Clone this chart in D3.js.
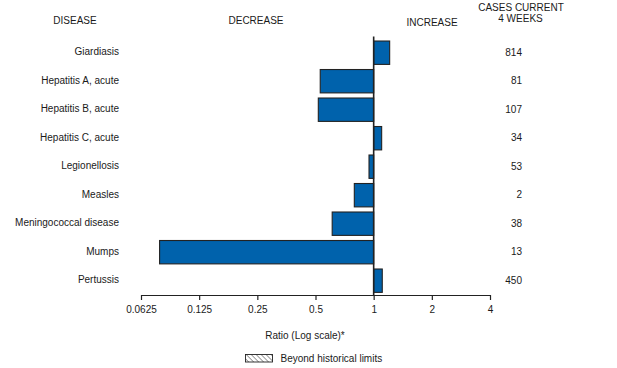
<!DOCTYPE html>
<html>
<head>
<meta charset="utf-8">
<script src="https://cdn.jsdelivr.net/npm/d3@7"></script>
<style>
  body { margin: 0; background: #fff; }
  svg { display: block; font-family: "Liberation Sans", Arial, Helvetica, sans-serif; }
  text { fill: #1a1a1a; }
</style>
</head>
<body>
<svg id="chart" width="617" height="368"></svg>
<script>
// ---- data ----
const diseases = ["Giardiasis", "Hepatitis A, acute", "Hepatitis B, acute", "Hepatitis C, acute",
  "Legionellosis", "Measles", "Meningococcal disease", "Mumps", "Pertussis"];
const ratios = [1.21, 0.529, 0.517, 1.10, 0.946, 0.794, 0.61, 0.078, 1.108];
const cases = [814, 81, 107, 34, 53, 2, 38, 13, 450];
const tickValues = [0.0625, 0.125, 0.25, 0.5, 1, 2, 4];
const tickLabels = ["0.0625", "0.125", "0.25", "0.5", "1", "2", "4"];

const svg = d3.select("#chart");

// hatch pattern for legend
const defs = svg.append("defs");
defs.append("pattern")
  .attr("id", "hatch").attr("patternUnits", "userSpaceOnUse")
  .attr("width", 3.5).attr("height", 3.5)
  .attr("patternTransform", "rotate(-45)")
  .append("line").attr("x1", 0).attr("y1", 0).attr("x2", 0).attr("y2", 3.5)
  .attr("stroke", "#222").attr("stroke-width", 0.9);

const x = d3.scaleLog().base(2).domain([0.0625, 4]).range([141, 490]);
const y = d3.scaleBand().domain(diseases).range([35.9, 297.5]).paddingInner(0.18).paddingOuter(0.18);

const fill = "#0062ac";
const stroke = "#222";

// bars
svg.append("g").selectAll("rect").data(diseases).join("rect")
  .attr("x", (d, i) => Math.min(x(1), x(ratios[i])))
  .attr("width", (d, i) => Math.abs(x(ratios[i]) - x(1)))
  .attr("y", d => y(d))
  .attr("height", y.bandwidth())
  .attr("fill", fill).attr("stroke", stroke).attr("stroke-width", 1.1);

// reference line at 1
svg.append("line")
  .attr("x1", x(1)).attr("x2", x(1)).attr("y1", 36.5).attr("y2", 295)
  .attr("stroke", "#222").attr("stroke-width", 1.6);

// axis
const axis = d3.axisBottom(x).tickValues(tickValues)
  .tickFormat((d, i) => tickLabels[i]).tickSizeInner(5).tickSizeOuter(0).tickPadding(6);
const gx = svg.append("g").attr("transform", "translate(0,295)").call(axis);
gx.select(".domain").attr("stroke", "#222").attr("stroke-width", 1.2);
gx.selectAll(".tick line").attr("stroke", "#222").attr("stroke-width", 1.2);
gx.selectAll(".tick text").attr("font-size", 10).attr("fill", "#1a1a1a")
  .attr("font-family", "Liberation Sans, Arial, sans-serif");

// disease labels
svg.append("g").selectAll("text").data(diseases).join("text")
  .attr("x", 119).attr("y", d => y(d) + y.bandwidth() / 2 - 1)
  .attr("dy", "0.35em").attr("text-anchor", "end").attr("font-size", 10)
  .text(d => d);

// case counts
svg.append("g").selectAll("text").data(diseases).join("text")
  .attr("x", 522).attr("y", d => y(d) + y.bandwidth() / 2 - 0.5)
  .attr("dy", "0.35em").attr("text-anchor", "end").attr("font-size", 10)
  .text((d, i) => cases[i]);

// headers
const hdr = svg.append("g").attr("font-size", 10);
hdr.append("text").attr("x", 75).attr("y", 24).attr("text-anchor", "middle").text("DISEASE");
hdr.append("text").attr("x", 256).attr("y", 24).attr("text-anchor", "middle").text("DECREASE");
hdr.append("text").attr("x", 432).attr("y", 25.5).attr("text-anchor", "middle").text("INCREASE");
hdr.append("text").attr("x", 521).attr("y", 10.5).attr("text-anchor", "middle").text("CASES CURRENT");
hdr.append("text").attr("x", 520.5).attr("y", 22).attr("text-anchor", "middle").text("4 WEEKS");

// axis title
svg.append("text").attr("x", 305).attr("y", 339).attr("text-anchor", "middle")
  .attr("font-size", 10).text("Ratio (Log scale)*");

// legend
svg.append("rect").attr("x", 245.5).attr("y", 354.5).attr("width", 27).attr("height", 7.5)
  .attr("fill", "url(#hatch)").attr("stroke", "#222").attr("stroke-width", 0.9);
svg.append("text").attr("x", 280.5).attr("y", 361.5).attr("font-size", 10)
  .text("Beyond historical limits");
</script>
</body>
</html>
